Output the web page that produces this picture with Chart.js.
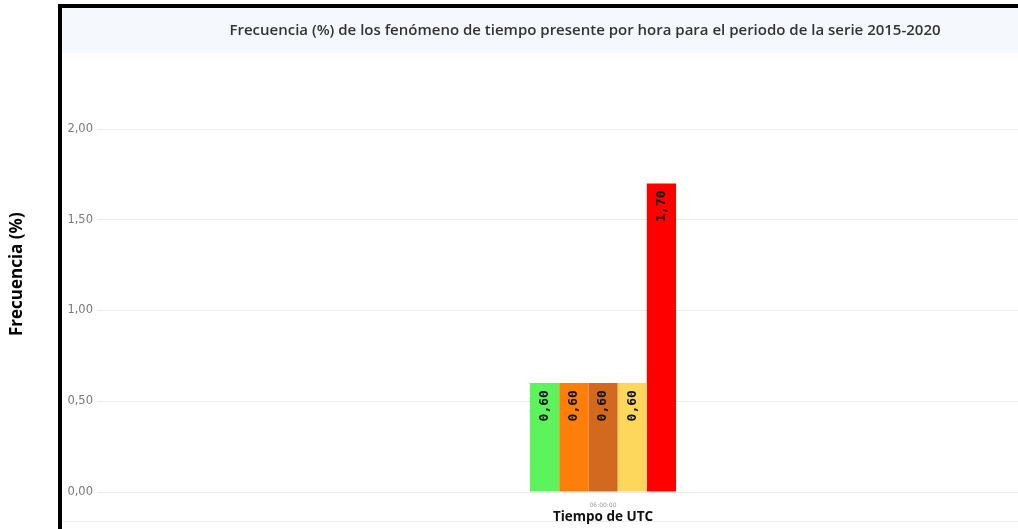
<!DOCTYPE html>
<html>
<head>
<meta charset="utf-8">
<script src="https://cdn.jsdelivr.net/npm/chart.js@4"></script>
<style>
  html, body { margin: 0; padding: 0; overflow: hidden; background: #fff; width: 1018px; height: 529px; }
  #c { display: block; }
</style>
</head>
<body>
<canvas id="c" width="1170" height="529" style="width:1170px;height:529px"></canvas>
<script>
// ---- data ----
const categories = ['06:00:00'];
const seriesNames = ['Fenómeno 1', 'Fenómeno 2', 'Fenómeno 3', 'Fenómeno 4', 'Fenómeno 5'];
const seriesValues = [[0.60], [0.60], [0.60], [0.60], [1.70]];
const seriesColors = ['#5cf35c', '#fd7f0a', '#d2691e', '#fdd75c', '#ff0000'];
const yTicks = [0, 0.5, 1.0, 1.5, 2.0];
const chartTitle = 'Frecuencia (%) de los fenómeno de tiempo presente por hora para el periodo de la serie 2015-2020';
const xTitle = 'Tiempo de UTC';
const yTitle = 'Frecuencia (%)';

const fmt = v => v.toFixed(2).replace('.', ',');

const frame = {
  id: 'frame',
  beforeDraw(chart) {
    const ctx = chart.ctx, W = chart.width, H = chart.height;
    ctx.save();
    ctx.fillStyle = '#ffffff';
    ctx.fillRect(0, 0, W, H);
    ctx.fillStyle = '#f5f9fd';
    ctx.fillRect(62, 8, W - 62, 45);
    ctx.fillStyle = '#eeeeee';
    ctx.fillRect(62, 521, W - 62, 1);
    ctx.fillStyle = '#000000';
    ctx.fillRect(58, 4, W - 58, 4);
    ctx.fillRect(58, 4, 4, H - 4);
    ctx.restore();
  }
};

const barLabels = {
  id: 'barLabels',
  afterDatasetsDraw(chart) {
    const ctx = chart.ctx;
    ctx.save();
    ctx.font = 'bold 13px "DejaVu Sans Mono", monospace';
    ctx.fillStyle = '#111111';
    chart.data.datasets.forEach((ds, i) => {
      const meta = chart.getDatasetMeta(i);
      meta.data.forEach((el, j) => {
        const v = ds.data[j];
        ctx.save();
        ctx.translate(el.x, el.y + 7);
        ctx.rotate(-Math.PI / 2);
        ctx.textAlign = 'right';
        ctx.textBaseline = 'middle';
        ctx.fillText(fmt(v), 0, 0);
        ctx.restore();
      });
    });
    ctx.restore();
  }
};

new Chart(document.getElementById('c'), {
  type: 'bar',
  data: {
    labels: categories,
    datasets: seriesNames.map((n, i) => ({
      label: n,
      data: seriesValues[i],
      backgroundColor: seriesColors[i],
      borderWidth: 0,
      categoryPercentage: 0.1443,
      barPercentage: 1.0
    }))
  },
  options: {
    responsive: false,
    animation: false,
    devicePixelRatio: 1,
    layout: { padding: 0 },
    plugins: {
      legend: { display: false },
      tooltip: { enabled: false },
      title: {
        display: true,
        text: chartTitle,
        color: '#333333',
        font: { family: '"Open Sans", sans-serif', size: 15, weight: '600' },
        padding: { top: 22, bottom: 16.4 }
      }
    },
    scales: {
      x: {
        grid: { display: false },
        border: { display: false },
        ticks: { color: '#999999', font: { family: '"DejaVu Sans", sans-serif', size: 6 }, padding: 2, maxRotation: 0 },
        title: {
          display: true, text: xTitle, color: '#111111',
          font: { family: '"Open Sans", sans-serif', size: 13.5, weight: 'bold' },
          padding: { top: 0, bottom: 4 }
        },
        afterFit(s) { s.height = 37; }
      },
      y: {
        min: 0, max: 2.4,
        grid: { color: '#ececec', drawTicks: false },
        border: { display: false },
        ticks: {
          padding: 4,
          color: '#7a7a7a',
          font: { family: '"DejaVu Sans", sans-serif', size: 11.5 },
          callback: v => fmt(v)
        },
        afterBuildTicks(s) { s.ticks = yTicks.map(v => ({ value: v })); },
        title: {
          display: true, text: yTitle, color: '#000000',
          font: { family: '"Open Sans", sans-serif', size: 17, weight: 'bold' },
          padding: { top: 7, bottom: 0 }
        },
        afterFit(s) { s.width = 97; }
      },
      yRight: {
        position: 'right',
        grid: { display: false },
        border: { display: false },
        ticks: { display: false },
        afterFit(s) { s.width = 61; }
      }
    }
  },
  plugins: [frame, barLabels]
});
</script>
</body>
</html>
